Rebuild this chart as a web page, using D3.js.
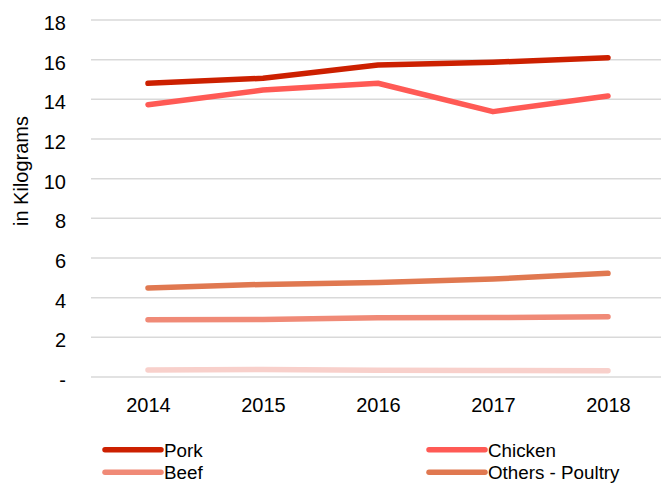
<!DOCTYPE html>
<html>
<head>
<meta charset="utf-8">
<script src="https://cdn.jsdelivr.net/npm/d3@7"></script>
<style>
  html, body { margin: 0; padding: 0; background: #fff; }
  svg { display: block; font-family: "Liberation Sans", Arial, sans-serif; }
</style>
</head>
<body>
<svg id="chart" width="661" height="483"></svg>
<script>
// Per-capita meat consumption, kg
const years = ["2014", "2015", "2016", "2017", "2018"];
const pork = [14.81, 15.06, 15.73, 15.87, 16.1];
const chicken = [13.73, 14.47, 14.81, 13.38, 14.17];
const othersPoultry = [4.49, 4.67, 4.76, 4.94, 5.23];
const beef = [2.89, 2.9, 2.99, 3.0, 3.04];
const others = [0.35, 0.38, 0.34, 0.33, 0.32];
const yTicks = [0, 2, 4, 6, 8, 10, 12, 14, 16, 18];

const series = [
  { name: "Others", values: others, color: "#f8d0cb" },
  { name: "Beef", values: beef, color: "#f08a77" },
  { name: "Others - Poultry", values: othersPoultry, color: "#e07850" },
  { name: "Chicken", values: chicken, color: "#ff5a55" },
  { name: "Pork", values: pork, color: "#cc2000" }
];

const svg = d3.select("#chart");

const x = d3.scalePoint().domain(years).range([148, 608]);
const y = d3.scaleLinear().domain([0, 18]).range([377, 20]);

// horizontal gridlines
svg.append("g")
  .selectAll("line")
  .data(yTicks)
  .join("line")
  .attr("x1", 91)
  .attr("x2", 661)
  .attr("y1", d => y(d))
  .attr("y2", d => y(d))
  .attr("stroke", "#d9d9d9")
  .attr("stroke-width", 1.5);

// y axis labels
const yAxis = d3.axisLeft(y)
  .tickValues(yTicks)
  .tickSize(0)
  .tickPadding(0)
  .tickFormat(d => d === 0 ? "-" : d);
svg.append("g")
  .attr("transform", "translate(66,0)")
  .call(yAxis)
  .call(g => g.select(".domain").remove())
  .call(g => g.selectAll("text")
    .attr("font-size", 20)
    .attr("font-family", "Liberation Sans, Arial, sans-serif")
    .attr("fill", "#000")
    .attr("dy", "0.48em"));

// x axis labels
const xAxis = d3.axisBottom(x).tickSize(0).tickPadding(0);
svg.append("g")
  .attr("transform", "translate(0,390)")
  .call(xAxis)
  .call(g => g.select(".domain").remove())
  .call(g => g.selectAll("text")
    .attr("font-size", 20)
    .attr("font-family", "Liberation Sans, Arial, sans-serif")
    .attr("fill", "#000")
    .attr("dy", "1.08em"));

// y axis title
svg.append("text")
  .attr("transform", "translate(28,171) rotate(-90)")
  .attr("text-anchor", "middle")
  .attr("font-size", 20)
  .attr("fill", "#000")
  .text("in Kilograms");

// series lines
const line = d3.line()
  .x((d, i) => x(years[i]))
  .y(d => y(d));

svg.append("g")
  .selectAll("path")
  .data(series)
  .join("path")
  .attr("d", d => line(d.values))
  .attr("fill", "none")
  .attr("stroke", d => d.color)
  .attr("stroke-width", 5.5)
  .attr("stroke-linecap", "round")
  .attr("stroke-linejoin", "round");

// legend
const legendItems = [
  { name: "Pork", col: 0, row: 0 },
  { name: "Chicken", col: 1, row: 0 },
  { name: "Beef", col: 0, row: 1 },
  { name: "Others - Poultry", col: 1, row: 1 }
];
const colorOf = Object.fromEntries(series.map(s => [s.name, s.color]));
const legend = svg.append("g")
  .selectAll("g")
  .data(legendItems)
  .join("g")
  .attr("transform", d => `translate(${105 + d.col * 324},${449.7 + d.row * 22.6})`);
legend.append("line")
  .attr("x1", 0).attr("x2", 56)
  .attr("stroke", d => colorOf[d.name])
  .attr("stroke-width", 5.5)
  .attr("stroke-linecap", "round");
legend.append("text")
  .attr("x", 59)
  .attr("y", 0)
  .attr("dy", "0.38em")
  .attr("font-size", 18.8)
  .attr("fill", "#000")
  .text(d => d.name);
</script>
</body>
</html>
